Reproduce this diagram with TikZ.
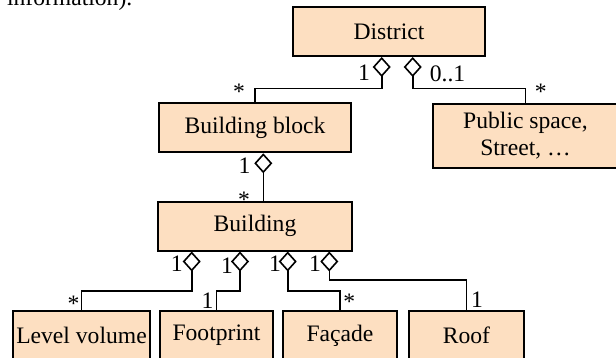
\documentclass[tikz,border=0pt]{standalone}
\usepackage{fontspec}
\setmainfont{Liberation Serif}
\usetikzlibrary{arrows.meta, positioning, calc}

\definecolor{boxfill}{HTML}{FDDFC1}

\begin{document}
\begin{tikzpicture}[
    x=0.5pt, y=-0.5pt,
    every node/.style={font=\fontsize{11.8pt}{13.6pt}\selectfont},
    box/.style={draw, line width=1pt, fill=boxfill, align=center,
                inner sep=1.5pt, minimum height=24.5pt},
    agg/.style={{Diamond[open, length=10pt, width=9pt]}-, line width=0.8pt},
    mult/.style={inner sep=0pt, anchor=base},
]
\useasboundingbox (0,0) rectangle (616,358);

\node[anchor=base west, inner sep=0pt] (intro) at (6.7,5.5) {information).};

\node[box, minimum width=96pt] (district) at (389,31.5) {District};
\node[box, minimum width=96pt] (block) at (255,127.8) {Building block};
\node[box, minimum width=92.5pt, minimum height=32pt] (public) at (525.5,135.7) {Public space,\\Street, …};
\node[box, minimum width=97pt, below=23.6pt of block] (building) {Building};

\node[box, minimum width=68.5pt] (level) at (81.5,335.5) {Level volume};
\node[box, minimum width=56.5pt, right=4pt of level]  (foot)   {Footprint};
\node[box, minimum width=57pt,   right=4pt of foot]   (facade) {Façade};
\node[box, minimum width=57.5pt, right=5pt of facade] (roof)   {Roof};

% aggregation ends
\coordinate (dd1) at ($(district.south)+(-7.3,0)$);
\coordinate (dd2) at ($(district.south)+(23.7,0)$);
\coordinate (bd)  at ($(block.south)+(8.3,0)$);
\coordinate (gd1) at ($(building.south)+(-63.3,0)$);
\coordinate (gd2) at ($(building.south)+(-15,0)$);
\coordinate (gd3) at ($(building.south)+(32.7,0)$);
\coordinate (gd4) at ($(building.south)+(74.3,0)$);

\draw[agg] (dd1) -- ++(0,31.7) -| (block.north);
\draw[agg] (dd2) -- ++(0,31.7) -| (public.north);
\draw[agg] (bd) -- (bd |- building.north);
\draw[agg] (gd1) -- ++(0,39.7) -| (level.north);
\draw[agg] (gd2) -- ++(0,39.7) -| (foot.north);
\draw[agg] (gd3) -- ++(0,39.7) -| (facade.north);
\draw[agg] (gd4) -- ++(0,28.7) -| (roof.north);

% multiplicities
\node[mult] (m1) at ($(dd1)+(-17.7,24)$) {1};
\node[mult] (m2) at ($(dd2)+(34.8,25)$) {0..1};
\node[mult] (m3) at ($(block.north)+(-16,-3)$) {*};
\node[mult] (m4) at ($(public.north)+(15.3,-3)$) {*};
\node[mult] (m5) at ($(bd)+(-18.8,20)$) {1};
\node[mult] (m6) at ($(bd |- building.north)+(-19.3,6.6)$) {*};
\node[mult] (m7) at ($(gd1)+(-15,20)$) {1};
\node[mult] (m8) at ($(gd2)+(-13,22)$) {1};
\node[mult] (m9) at ($(gd3)+(-12.7,20)$) {1};
\node[mult] (m10) at ($(gd4)+(-14.3,20)$) {1};
\node[mult] (m11) at ($(level.north)+(-8,1)$) {*};
\node[mult] (m12) at ($(foot.north)+(-9,-2)$) {1};
\node[mult] (m13) at ($(facade.north)+(9.3,-1)$) {*};
\node[mult] (m14) at ($(roof.north)+(10.5,-3)$) {1};
\end{tikzpicture}
\end{document}
